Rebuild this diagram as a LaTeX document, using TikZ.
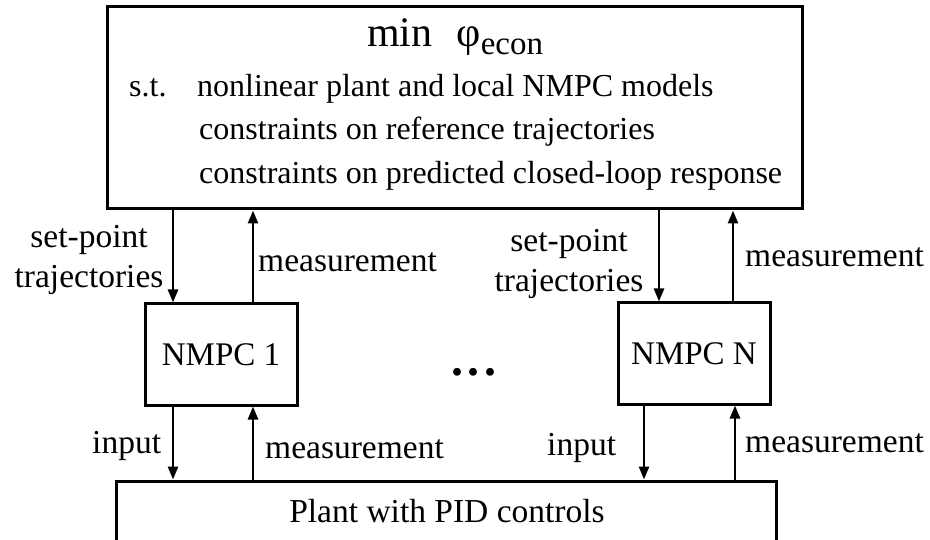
\documentclass[tikz,border=0pt]{standalone}
\usepackage{fontspec}
\setmainfont{Liberation Serif}
\usetikzlibrary{arrows.meta}
\begin{document}
\begin{tikzpicture}[x=1pt,y=-1pt,
  box/.style={draw, line width=3pt, inner sep=0pt},
  arr/.style={line width=2.5pt, -{Triangle[length=13pt,width=10pt]}},
  lbl/.style={font=\fontsize{33.5}{40}\selectfont, inner sep=0pt},
  txt/.style={font=\fontsize{32}{38}\selectfont, inner sep=0pt, anchor=base west}]
\useasboundingbox (0,0) rectangle (930,540);
\clip (0,0) rectangle (930,540);
% boxes
\node[box, minimum width=695pt, minimum height=202pt] (top) at (454.5,108) {};
\node[box, minimum width=152pt, minimum height=101pt, font=\fontsize{33}{40}\selectfont] (nm1) at (221,354.5) {NMPC 1};
\node[box, minimum width=152pt, minimum height=101pt, font=\fontsize{33}{40}\selectfont] (nmN) at (694,353.5) {NMPC N};
\node[box, minimum width=660pt, minimum height=60pt] (plant) at (446,511) {};
\node[lbl, anchor=base] (plantlbl) at (447,522) {Plant with PID controls};
% top box text
\node[inner sep=0pt, anchor=base west] (title) at (367,47)
  {\fontsize{42}{48}\selectfont min\hspace{24pt}φ\hspace{0pt}{\fontsize{33}{36}\selectfont\raisebox{-8pt}{econ}}};
\node[txt] (st) at (129,97) {s.t.};
\node[txt] (c1) at (197,97) {nonlinear plant and local NMPC models};
\node[txt] (c2) at (199,140) {constraints on reference trajectories};
\node[txt] (c3) at (199,183.5) {constraints on predicted closed-loop response};
% dots
\node[inner sep=0pt, anchor=base, font=\fontsize{48}{50}\selectfont\bfseries] (dots) at (474,376) {.\hspace{5pt}.\hspace{5pt}.};
% arrows
\draw[arr] ([xshift=-48pt]nm1.north |- top.south) -- ([xshift=-48pt]nm1.north);
\draw[arr] ([xshift=32pt]nm1.north) -- ([xshift=32pt]nm1.north |- top.south);
\draw[arr] ([xshift=-48pt]nm1.south) -- ([xshift=-48pt]nm1.south |- plant.north);
\draw[arr] ([xshift=32pt]nm1.south |- plant.north) -- ([xshift=32pt]nm1.south);
\draw[arr] ([xshift=-35pt]nmN.north |- top.south) -- ([xshift=-35pt]nmN.north);
\draw[arr] ([xshift=39pt]nmN.north) -- ([xshift=39pt]nmN.north |- top.south);
\draw[arr] ([xshift=-50pt]nmN.south) -- ([xshift=-50pt]nmN.south |- plant.north);
\draw[arr] ([xshift=41pt]nmN.south |- plant.north) -- ([xshift=41pt]nmN.south);
% labels
\node[lbl, align=center, anchor=base] (sp1) at (89,288) {set-point\\trajectories};
\node[lbl, align=center, anchor=base] (spN) at (569,292) {set-point\\trajectories};
\node[lbl, anchor=base west] (m1) at (258,272) {measurement};
\node[lbl, anchor=base west] (m2) at (265,458) {measurement};
\node[lbl, anchor=base west] (m3) at (745,267) {measurement};
\node[lbl, anchor=base west] (m4) at (745,452) {measurement};
\node[lbl, anchor=base west] (in1) at (92,453) {input};
\node[lbl, anchor=base west] (inN) at (547,455) {input};
\end{tikzpicture}
\end{document}
